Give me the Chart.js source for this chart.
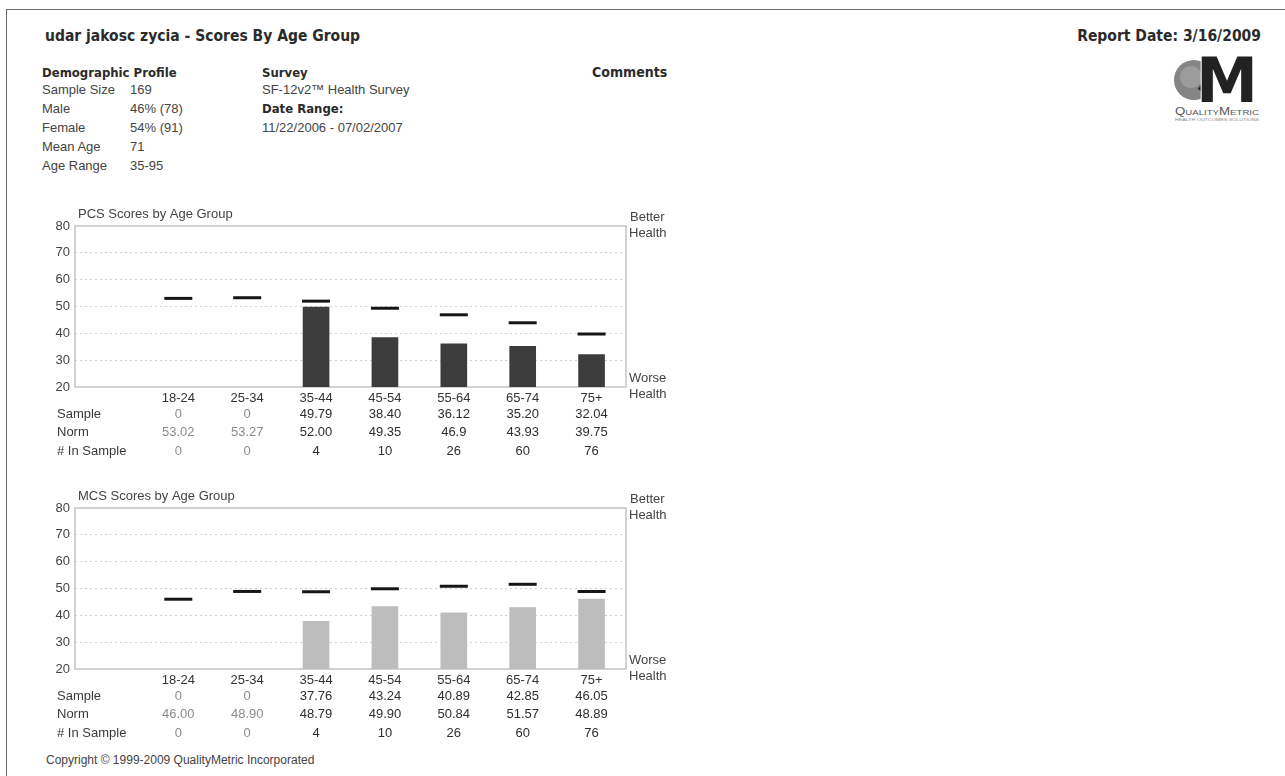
<!DOCTYPE html>
<html>
<head>
<meta charset="utf-8">
<script src="https://cdn.jsdelivr.net/npm/chart.js@4.4.1/dist/chart.umd.min.js"></script>
<style>
html,body{margin:0;padding:0;background:#fff;}
body{width:1285px;height:776px;position:relative;overflow:hidden;font-family:"Liberation Sans",Arial,sans-serif;color:#444;}
.abs{position:absolute;white-space:nowrap;}
.hb{font-family:"DejaVu Sans Condensed","DejaVu Sans",sans-serif;font-stretch:condensed;font-weight:bold;color:#2b2b2b;}
.t13{font-size:13px;line-height:16px;}
#frameTop{position:absolute;left:6px;top:9px;right:0;height:1px;background:#6a6a6a;}
#frameLeft{position:absolute;left:6px;top:9px;bottom:0;width:1px;background:#6a6a6a;}
canvas{position:absolute;}
</style>
</head>
<body>
<div id="frameTop"></div><div id="frameLeft"></div>

<div class="abs hb" style="left:45px;top:27px;font-size:15.5px;line-height:18px;">udar jakosc zycia - Scores By Age Group</div>
<div class="abs hb" style="right:24px;top:27px;font-size:15.5px;line-height:18px;">Report Date: 3/16/2009</div>

<div class="abs hb" style="left:42px;top:65px;font-size:13px;line-height:16px;">Demographic Profile</div>
<div class="abs t13" style="left:42px;top:82px;">Sample Size</div><div class="abs t13" style="left:130px;top:82px;">169</div>
<div class="abs t13" style="left:42px;top:101px;">Male</div><div class="abs t13" style="left:130px;top:101px;">46% (78)</div>
<div class="abs t13" style="left:42px;top:120px;">Female</div><div class="abs t13" style="left:130px;top:120px;">54% (91)</div>
<div class="abs t13" style="left:42px;top:139px;">Mean Age</div><div class="abs t13" style="left:130px;top:139px;">71</div>
<div class="abs t13" style="left:42px;top:158px;">Age Range</div><div class="abs t13" style="left:130px;top:158px;">35-95</div>

<div class="abs hb" style="left:262px;top:65px;font-size:13px;line-height:16px;">Survey</div>
<div class="abs t13" style="left:262px;top:82px;">SF-12v2™ Health Survey</div>
<div class="abs hb" style="left:262px;top:101px;font-size:13px;line-height:16px;">Date Range:</div>
<div class="abs t13" style="left:262px;top:120px;">11/22/2006 - 07/02/2007</div>

<div class="abs hb" style="left:592px;top:64px;font-size:14px;line-height:16px;">Comments</div>

<svg class="abs" style="left:1158px;top:50px;" width="120" height="80" viewBox="0 0 120 80">
  <circle cx="36" cy="30" r="20" fill="#858585"/>
  <circle cx="33" cy="27" r="11" fill="#9c9c9c"/>
  <rect x="40" y="38" width="14" height="6" fill="#2a2a2a" transform="rotate(40 47 41)"/>
  <text x="38" y="52" font-family="DejaVu Sans" font-weight="bold" font-size="62" fill="#222" stroke="#fff" stroke-width="2" paint-order="stroke" textLength="62" lengthAdjust="spacingAndGlyphs">M</text>
  <text x="17" y="65" font-family="Liberation Sans" font-size="11" fill="#555" textLength="84" lengthAdjust="spacingAndGlyphs">Q<tspan font-size="8">UALITY</tspan>M<tspan font-size="8">ETRIC</tspan></text>
  <text x="17" y="71" font-family="Liberation Sans" font-size="4" fill="#888" textLength="84" lengthAdjust="spacingAndGlyphs">HEALTH OUTCOMES SOLUTIONS</text>
</svg>

<canvas id="pcs" width="700" height="265" style="left:0;top:200px;"></canvas>
<canvas id="mcs" width="700" height="265" style="left:0;top:482px;"></canvas>

<div class="abs" style="left:46px;top:752px;font-size:12px;line-height:16px;color:#444;">Copyright © 1999-2009 QualityMetric Incorporated</div>

<script>
// ---- data ----
const ageGroups = ['18-24', '25-34', '35-44', '45-54', '55-64', '65-74', '75+'];
const yTicks = [20, 30, 40, 50, 60, 70, 80];
const inSample = [0, 0, 4, 10, 26, 60, 76];
const pcsSampleText = ['0', '0', '49.79', '38.40', '36.12', '35.20', '32.04'];
const pcsNormText = ['53.02', '53.27', '52.00', '49.35', '46.9', '43.93', '39.75'];
const mcsSampleText = ['0', '0', '37.76', '43.24', '40.89', '42.85', '46.05'];
const mcsNormText = ['46.00', '48.90', '48.79', '49.90', '50.84', '51.57', '48.89'];
const rowLabels = ['Sample', 'Norm', '# In Sample'];

const FONT = '"Liberation Sans", Arial, sans-serif';

const reportPlugin = {
  id: 'report',
  beforeDatasetsDraw(chart) {
    const a = chart.chartArea, ctx = chart.ctx;
    ctx.save();
    ctx.strokeStyle = '#c4c4c4';
    ctx.lineWidth = 1.5;
    ctx.strokeRect(a.left, a.top, a.right - a.left, a.bottom - a.top);
    ctx.restore();
  },
  afterDraw(chart, args, o) {
    const a = chart.chartArea, ctx = chart.ctx, xs = chart.scales.x;
    ctx.save();
    ctx.font = '13px ' + FONT;
    ctx.textBaseline = 'middle';
    ctx.textAlign = 'left';
    ctx.fillStyle = '#444';
    ctx.fillText(o.title, a.left + 3, a.top - 12);
    ctx.fillText('Better', a.right + 4, a.top - 9);
    ctx.fillText('Health', a.right + 3, a.top + 7);
    ctx.fillText('Worse', a.right + 3, a.bottom - 9);
    ctx.fillText('Health', a.right + 3, a.bottom + 7);
    o.rows.forEach((row, r) => {
      const y = o.rowY[r];
      ctx.textAlign = 'left';
      ctx.fillStyle = '#3a3a3a';
      ctx.fillText(rowLabels[r], o.rowLabelX, y);
      ctx.textAlign = 'center';
      row.forEach((t, i) => {
        ctx.fillStyle = inSample[i] === 0 ? '#8c8c8c' : '#2e2e2e';
        ctx.fillText(t, xs.getPixelForValue(i + 1), y);
      });
    });
    ctx.restore();
  }
};

function makeChart(id, title, sampleText, normText, barColor) {
  const labels = [''].concat(ageGroups);
  const sample = [null].concat(sampleText.map(Number));
  const norm = [null].concat(normText.map(Number));
  return new Chart(document.getElementById(id), {
    type: 'bar',
    data: {
      labels: labels,
      datasets: [
        {
          type: 'line', label: 'Norm', data: norm, order: 0,
          showLine: false, pointStyle: 'line', pointRadius: 14, pointHoverRadius: 14,
          borderColor: '#161616', pointBorderWidth: 3, pointHoverBorderWidth: 3, borderWidth: 3
        },
        {
          type: 'bar', label: 'Sample', data: sample, order: 1,
          backgroundColor: barColor, barThickness: 26, clip: 0
        }
      ]
    },
    options: {
      responsive: false,
      animation: false,
      devicePixelRatio: 1,
      events: [],
      layout: { padding: { left: 0, right: 74, top: 26, bottom: 0 } },
      plugins: {
        legend: { display: false },
        tooltip: { enabled: false },
        report: {
          title: title,
          rows: [sampleText, normText, inSample.map(String)],
          rowY: [214, 232, 251],
          rowLabelX: 57
        }
      },
      scales: {
        x: {
          grid: { display: false },
          border: { display: false },
          ticks: { font: { size: 13, family: FONT }, color: '#333', padding: -4, maxRotation: 0, autoSkip: false },
          afterFit(s) { s.height = 78; }
        },
        y: {
          min: Math.min(...yTicks), max: Math.max(...yTicks),
          grid: {
            drawTicks: false,
            lineWidth: 1,
            color: (c) => (c.tick && (c.tick.value === yTicks[0] || c.tick.value === yTicks[yTicks.length - 1])) ? 'rgba(0,0,0,0)' : '#d0d0d0'
          },
          border: { display: false, dash: [2, 3] },
          ticks: { stepSize: 10, font: { size: 13, family: FONT }, color: '#444', padding: 5 },
          afterFit(s) { s.width = 75; }
        }
      }
    },
    plugins: [reportPlugin]
  });
}

makeChart('pcs', 'PCS Scores by Age Group', pcsSampleText, pcsNormText, '#3c3c3c');
makeChart('mcs', 'MCS Scores by Age Group', mcsSampleText, mcsNormText, '#bdbdbd');
</script>
</body>
</html>
